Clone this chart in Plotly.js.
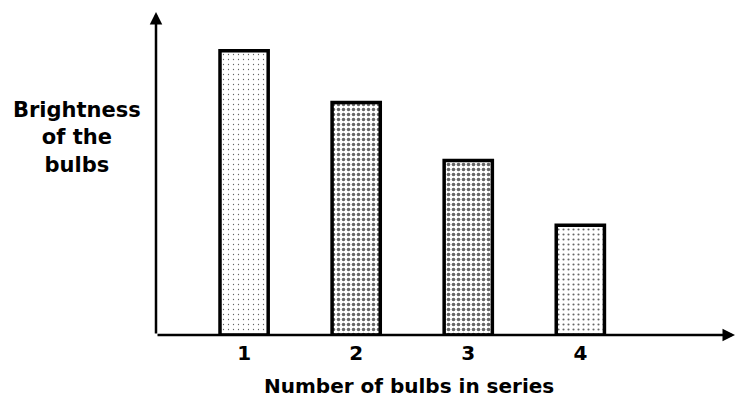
<!DOCTYPE html>
<html>
<head>
<meta charset="utf-8">
<script src="https://cdn.plot.ly/plotly-3.0.1.min.js"></script>
<style>html,body{margin:0;padding:0;background:#fff;}#chart{width:736px;height:401px;}</style>
</head>
<body>
<div id="chart"></div>
<script>
// Data (relative brightness, arbitrary units)
const bulbs = [1, 2, 3, 4];
const brightness = [8.8, 7.2, 5.4, 3.4];
const tickLabels = ["1", "2", "3", "4"];
const stippleDensity = [0.05, 0.38, 0.42, 0.14];
const yTitleLines = ["Brightness", "of the", "bulbs"];
const xTitleText = "Number of bulbs in series";

const FONT = "DejaVu Sans";

const trace = {
  type: "bar",
  x: bulbs,
  y: brightness,
  width: 0.43,
  marker: {
    color: "#ffffff",
    line: {color: "#000000", width: 3.5},
    pattern: {shape: ".", fgcolor: "#666666", bgcolor: "#ffffff", size: 5, solidity: stippleDensity}
  },
  hoverinfo: "skip",
  cliponaxis: false
};

const layout = {
  width: 736,
  height: 401,
  margin: {l: 156, r: 1, t: 12, b: 66},
  paper_bgcolor: "#ffffff",
  plot_bgcolor: "#ffffff",
  showlegend: false,
  xaxis: {
    range: [0.214, 5.38],
    tickvals: bulbs,
    ticktext: tickLabels,
    ticks: "",
    ticklabelstandoff: 4,
    showgrid: false,
    zeroline: false,
    showline: false,
    tickfont: {family: FONT, size: 20, color: "#000", weight: "bold"}
  },
  yaxis: {
    range: [0, 10],
    showticklabels: false,
    ticks: "",
    showgrid: false,
    zeroline: false,
    showline: false
  },
  annotations: [
    {xref: "paper", yref: "paper", x: 0, y: 1, ax: 0, ay: 323, text: "", showarrow: true,
     arrowhead: 2, arrowsize: 1, arrowwidth: 2.5, arrowcolor: "#000", standoff: 0, startstandoff: 0},
    {xref: "paper", yref: "paper", x: 1, y: 0, ax: -579, ay: 0, text: "", showarrow: true,
     arrowhead: 2, arrowsize: 1, arrowwidth: 2.5, arrowcolor: "#000", standoff: 0, startstandoff: 0},
    {xref: "paper", yref: "paper", x: -0.1364, y: 0.61, xanchor: "center", yanchor: "middle",
     text: yTitleLines.join("<br>"), showarrow: false, align: "center",
     font: {family: FONT, size: 21, color: "#000", weight: "bold"}},
    {xref: "paper", yref: "paper", x: 0.437, y: -0.158, xanchor: "center", yanchor: "middle",
     text: xTitleText, showarrow: false,
     font: {family: FONT, size: 20, color: "#000", weight: "bold"}}
  ]
};

Plotly.newPlot("chart", [trace], layout, {displayModeBar: false, staticPlot: true});
</script>
</body>
</html>
